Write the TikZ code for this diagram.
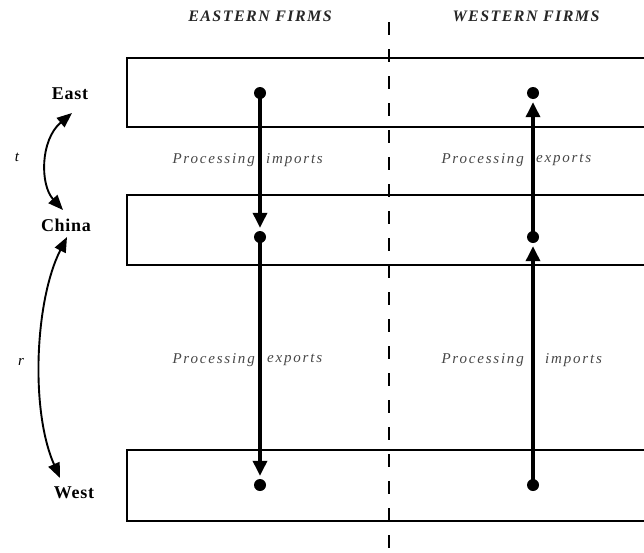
\documentclass[tikz,border=0pt]{standalone}
\usepackage{fontspec}
\setmainfont{Liberation Serif}
\usetikzlibrary{arrows.meta}
\newfontfamily\hdfont[LetterSpace=9]{Liberation Serif}
\newfontfamily\lbfont[LetterSpace=12]{Liberation Serif}
\newfontfamily\rgfont[LetterSpace=4]{Liberation Serif}
\tikzset{
  band/.style={draw=black, line width=1.7pt},
  dotnode/.style={circle, fill=black, inner sep=0pt, minimum size=12pt},
  flow/.style={line width=3.4pt, -{Triangle[width=14pt,length=15pt]}, shorten >=3pt, shorten <=0pt},
  header/.style={font=\hdfont\fontsize{16}{19}\selectfont\bfseries\itshape, text=black!85},
  region/.style={font=\rgfont\fontsize{18}{21}\selectfont\bfseries},
  proc/.style={font=\lbfont\fontsize{15}{18}\selectfont\itshape, text=black!72, inner sep=0pt},
  param/.style={font=\fontsize{15}{18}\selectfont\itshape},
  link/.style={line width=1.9pt, {Triangle[width=12pt,length=15pt]}-{Triangle[width=12pt,length=15pt]}},
  divider/.style={line width=1.5pt, dash pattern=on 13pt off 14pt}
}
\begin{document}
\begin{tikzpicture}[x=1pt,y=-1pt]
\useasboundingbox (0,0) rectangle (644,552);
\begin{scope}
\clip (0,0) rectangle (644,552);
% bands
\draw[band] (127,58) rectangle (660,127);
\draw[band] (127,195) rectangle (660,265);
\draw[band] (127,450) rectangle (660,521);
% divider
\coordinate (dtop) at (389,22);
\coordinate (dbot) at (389,552);
\draw[divider] (dtop) -- (dbot);
\end{scope}
% headers
\node[header] (hE) at (260,16) {EASTERN FIRMS};
\node[header] (hW) at (526,16) {WESTERN FIRMS};
% region labels
\node[region] (East) at (70,94) {East};
\node[region] (China) at (66,225) {China};
\node[region] (West) at (74,493) {West};
\node[param] (t) at (17,157) {t};
\node[param] (r) at (21,362) {r};
% links between regions
\coordinate (l1a) at (72,113);
\coordinate (l1b) at (63,210);
\draw[link] (l1a) .. controls (40,140) and (40,185) .. (l1b);
\coordinate (l2a) at (67,237);
\coordinate (l2b) at (60,478);
\draw[link] (l2a) .. controls (35,300) and (30,410) .. (l2b);
% dots
\node[dotnode] (e1) at (260,93) {};
\node[dotnode] (c1) at (260,237) {};
\node[dotnode] (w1) at (260,485) {};
\node[dotnode] (e2) at (533,93) {};
\node[dotnode] (c2) at (533,237) {};
\node[dotnode] (w2) at (533,485) {};
% flows
\draw[flow] (e1.center) -- (c1);
\draw[flow] (c1.center) -- (w1);
\draw[flow] (w2.center) -- (c2);
\draw[flow] (c2.center) -- (e2);
% flow labels
\node[proc, anchor=east] (p1a) at (255,160) {Processing};
\node[proc, anchor=west] (p1b) at (266,160) {imports};
\node[proc, anchor=east] (p2a) at (524,160) {Processing};
\node[proc, anchor=west] (p2b) at (536,160) {exports};
\node[proc, anchor=east] (p3a) at (255,360) {Processing};
\node[proc, anchor=west] (p3b) at (267,360) {exports};
\node[proc, anchor=east] (p4a) at (524,360) {Processing};
\node[proc, anchor=west] (p4b) at (545,360) {imports};
\end{tikzpicture}
\end{document}
